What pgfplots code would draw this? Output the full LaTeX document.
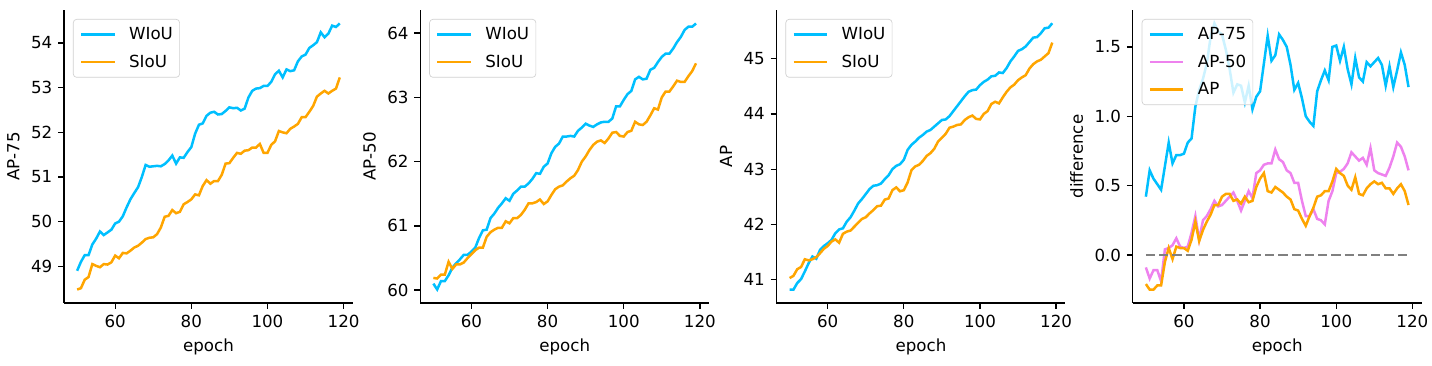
\documentclass[border=0pt]{standalone}
\usepackage{pgfplots}
\pgfplotsset{compat=1.18}
\usepackage{pgfplotstable}
\usepgfplotslibrary{groupplots}
\usepackage{fontspec}
\setmainfont{DejaVu Sans}

\definecolor{wiou}{RGB}{0,191,255}
\definecolor{siou}{RGB}{255,165,0}
\definecolor{apfifty}{RGB}{238,130,238}
\definecolor{zero}{RGB}{128,128,128}

% AP-75: epoch, WIoU, SIoU
\pgfplotstableread{
e w s
50 48.90 48.48
51 49.10 48.51
52 49.25 48.70
53 49.25 48.76
54 49.49 49.05
55 49.62 49.01
56 49.78 48.98
57 49.70 49.05
58 49.76 49.04
59 49.82 49.09
60 49.96 49.24
61 50.00 49.18
62 50.12 49.30
63 50.32 49.29
64 50.50 49.35
65 50.64 49.42
66 50.77 49.46
67 51.00 49.53
68 51.27 49.61
69 51.23 49.64
70 51.24 49.65
71 51.25 49.72
72 51.24 49.87
73 51.29 50.11
74 51.37 50.13
75 51.48 50.26
76 51.30 50.19
77 51.44 50.22
78 51.43 50.39
79 51.56 50.44
80 51.67 50.50
81 51.97 50.61
82 52.17 50.59
83 52.20 50.80
84 52.37 50.93
85 52.44 50.85
86 52.46 50.91
87 52.40 50.91
88 52.41 51.05
89 52.48 51.30
90 52.56 51.31
91 52.54 51.43
92 52.55 51.54
93 52.49 51.52
94 52.53 51.59
95 52.78 51.60
96 52.93 51.66
97 52.98 51.66
98 52.99 51.74
99 53.04 51.54
100 53.04 51.54
101 53.13 51.72
102 53.30 51.80
103 53.38 52.03
104 53.23 52.00
105 53.41 51.98
106 53.37 52.08
107 53.39 52.13
108 53.59 52.19
109 53.70 52.34
110 53.74 52.34
111 53.89 52.46
112 53.95 52.59
113 54.02 52.80
114 54.24 52.87
115 54.13 52.93
116 54.21 52.87
117 54.39 52.93
118 54.36 52.98
119 54.44 53.23
}\apsevfive

% AP-50
\pgfplotstableread{
e w s
50 60.10 60.19
51 60.01 60.18
52 60.14 60.24
53 60.14 60.24
54 60.23 60.44
55 60.35 60.33
56 60.42 60.40
57 60.48 60.40
58 60.55 60.43
59 60.55 60.50
60 60.60 60.56
61 60.66 60.62
62 60.81 60.66
63 60.93 60.66
64 60.94 60.83
65 61.12 60.90
66 61.19 60.94
67 61.28 60.97
68 61.35 60.97
69 61.43 61.07
70 61.39 61.04
71 61.50 61.12
72 61.55 61.12
73 61.61 61.17
74 61.61 61.25
75 61.66 61.35
76 61.73 61.35
77 61.82 61.37
78 61.81 61.41
79 61.92 61.34
80 61.97 61.38
81 62.13 61.48
82 62.23 61.57
83 62.28 61.61
84 62.39 61.63
85 62.39 61.69
86 62.40 61.74
87 62.39 61.78
88 62.48 61.87
89 62.53 62.00
90 62.59 62.08
91 62.56 62.18
92 62.54 62.26
93 62.58 62.31
94 62.61 62.33
95 62.62 62.29
96 62.62 62.36
97 62.67 62.45
98 62.86 62.46
99 62.86 62.40
100 62.96 62.39
101 63.05 62.46
102 63.10 62.48
103 63.28 62.62
104 63.32 62.58
105 63.28 62.57
106 63.29 62.62
107 63.43 62.72
108 63.46 62.83
109 63.55 62.81
110 63.63 63.00
111 63.68 63.09
112 63.68 63.09
113 63.76 63.17
114 63.86 63.26
115 63.94 63.24
116 64.05 63.24
117 64.10 63.33
118 64.10 63.41
119 64.15 63.53
}\apfifty

% AP
\pgfplotstableread{
e w s
50 40.82 41.03
51 40.82 41.07
52 40.94 41.19
53 41.01 41.23
54 41.15 41.37
55 41.30 41.35
56 41.42 41.37
57 41.38 41.41
58 41.54 41.48
59 41.61 41.56
60 41.66 41.61
61 41.72 41.69
62 41.84 41.73
63 41.91 41.67
64 41.93 41.83
65 42.05 41.87
66 42.13 41.89
67 42.25 41.96
68 42.38 42.03
69 42.46 42.10
70 42.55 42.13
71 42.64 42.20
72 42.70 42.26
73 42.71 42.33
74 42.74 42.34
75 42.82 42.45
76 42.89 42.47
77 43.00 42.62
78 43.06 42.67
79 43.09 42.60
80 43.17 42.62
81 43.35 42.76
82 43.44 42.98
83 43.50 43.05
84 43.57 43.08
85 43.62 43.15
86 43.68 43.24
87 43.71 43.29
88 43.77 43.37
89 43.83 43.50
90 43.89 43.57
91 43.90 43.64
92 43.96 43.75
93 44.05 43.77
94 44.14 43.80
95 44.23 43.81
96 44.32 43.89
97 44.40 43.94
98 44.43 43.97
99 44.44 43.91
100 44.52 43.90
101 44.58 44.00
102 44.62 44.05
103 44.68 44.18
104 44.69 44.22
105 44.75 44.19
106 44.74 44.30
107 44.83 44.40
108 44.95 44.48
109 45.04 44.53
110 45.14 44.61
111 45.17 44.66
112 45.22 44.70
113 45.30 44.82
114 45.38 44.90
115 45.39 44.95
116 45.46 44.98
117 45.55 45.04
118 45.56 45.10
119 45.64 45.29
}\apall

% differences WIoU - SIoU
\pgfplotstableread{
e d75 d50 dap
50 0.42 -0.09 -0.21
51 0.61 -0.17 -0.25
52 0.55 -0.11 -0.25
53 0.51 -0.11 -0.22
54 0.47 -0.19 -0.22
55 0.64 0.04 -0.05
56 0.81 0.05 0.05
57 0.66 0.07 -0.03
58 0.72 0.12 0.06
59 0.72 0.06 0.05
60 0.73 0.05 0.05
61 0.81 0.06 0.03
62 0.84 0.16 0.11
63 1.07 0.28 0.24
64 1.19 0.11 0.10
65 1.27 0.25 0.18
66 1.38 0.28 0.24
67 1.57 0.33 0.29
68 1.67 0.39 0.36
69 1.61 0.35 0.36
70 1.59 0.36 0.42
71 1.48 0.39 0.44
72 1.34 0.42 0.44
73 1.17 0.45 0.39
74 1.23 0.39 0.40
75 1.22 0.32 0.37
76 1.10 0.39 0.42
77 1.22 0.46 0.38
78 1.05 0.41 0.39
79 1.14 0.59 0.49
80 1.18 0.61 0.55
81 1.38 0.65 0.59
82 1.58 0.66 0.46
83 1.40 0.66 0.45
84 1.44 0.76 0.49
85 1.59 0.69 0.47
86 1.55 0.67 0.45
87 1.50 0.61 0.42
88 1.37 0.59 0.40
89 1.19 0.52 0.33
90 1.24 0.52 0.32
91 1.13 0.39 0.26
92 1.00 0.28 0.21
93 0.96 0.28 0.28
94 0.93 0.33 0.34
95 1.18 0.26 0.42
96 1.26 0.25 0.43
97 1.33 0.22 0.46
98 1.26 0.39 0.46
99 1.50 0.46 0.53
100 1.51 0.59 0.62
101 1.40 0.60 0.59
102 1.50 0.62 0.57
103 1.34 0.66 0.50
104 1.23 0.74 0.47
105 1.42 0.71 0.56
106 1.28 0.68 0.44
107 1.25 0.70 0.43
108 1.39 0.65 0.48
109 1.36 0.77 0.51
110 1.39 0.61 0.53
111 1.42 0.59 0.51
112 1.37 0.58 0.52
113 1.22 0.57 0.48
114 1.36 0.63 0.48
115 1.21 0.71 0.44
116 1.33 0.81 0.48
117 1.46 0.78 0.51
118 1.37 0.71 0.46
119 1.21 0.61 0.36
}\diffs

\pgfplotsset{
  curve/.style={line width=1.5pt, #1},
  panel/.style={
    scale only axis, width=173.4pt, height=175.8pt,
    xmin=46.55, xmax=122.45, xtick={60,80,100,120},
    axis x line*=bottom, axis y line*=left,
    axis line style={-, line width=0.8pt},
    tick align=outside, major tick length=3.5pt,
    tick style={line width=0.8pt, black},
    /pgf/number format/assume math mode=true,
    xlabel={epoch},
    legend cell align=left,
    legend image code/.code={\draw[##1, line width=1.5pt] (0pt,0pt) -- (20pt,0pt);},
    legend style={at={(0,1)}, anchor=north west, xshift=5.4pt, yshift=-5.4pt,
      draw=black!18, fill=white, fill opacity=0.8, text opacity=1,
      rounded corners=2pt, inner xsep=4pt, inner ysep=3.4pt,
      row sep=5pt, column sep=8pt,
      nodes={inner sep=0pt, text height=9pt, text depth=2.5pt}},
  },
}

\begin{document}
\begin{tikzpicture}
\begin{groupplot}[group style={group size=4 by 1, horizontal sep=40.4pt}, panel]
\nextgroupplot[ylabel={AP-75}, ymin=48.18, ymax=54.74, ytick={49,50,51,52,53,54}]
\addplot[curve=wiou] table[x=e, y=w] {\apsevfive};
\addlegendentry{WIoU}
\addplot[curve=siou] table[x=e, y=s] {\apsevfive};
\addlegendentry{SIoU}

\nextgroupplot[ylabel={AP-50}, ymin=59.80, ymax=64.36, ytick={60,61,62,63,64}]
\addplot[curve=wiou] table[x=e, y=w] {\apfifty};
\addlegendentry{WIoU}
\addplot[curve=siou] table[x=e, y=s] {\apfifty};
\addlegendentry{SIoU}

\nextgroupplot[ylabel={AP}, ymin=40.58, ymax=45.88, ytick={41,42,43,44,45}]
\addplot[curve=wiou] table[x=e, y=w] {\apall};
\addlegendentry{WIoU}
\addplot[curve=siou] table[x=e, y=s] {\apall};
\addlegendentry{SIoU}

\nextgroupplot[ylabel={difference}, ymin=-0.346, ymax=1.766, ytick={0,0.5,1,1.5},
  yticklabel style={/pgf/number format/.cd, fixed, fixed zerofill, precision=1}]
\addplot[curve=wiou] table[x=e, y=d75] {\diffs};
\addlegendentry{AP-75}
\addplot[curve=apfifty] table[x=e, y=d50] {\diffs};
\addlegendentry{AP-50}
\addplot[curve=siou] table[x=e, y=dap] {\diffs};
\addlegendentry{AP}
\addplot[curve=zero, dash pattern=on 5.55pt off 2.4pt, forget plot] coordinates {(50,0) (119,0)};
\end{groupplot}
\pgfresetboundingbox
\path[use as bounding box] ([xshift=-38.4pt, yshift=-37.8pt]group c1r1.south west)
  rectangle ([xshift=6.2pt, yshift=6pt]group c4r1.north east);
\end{tikzpicture}
\end{document}
